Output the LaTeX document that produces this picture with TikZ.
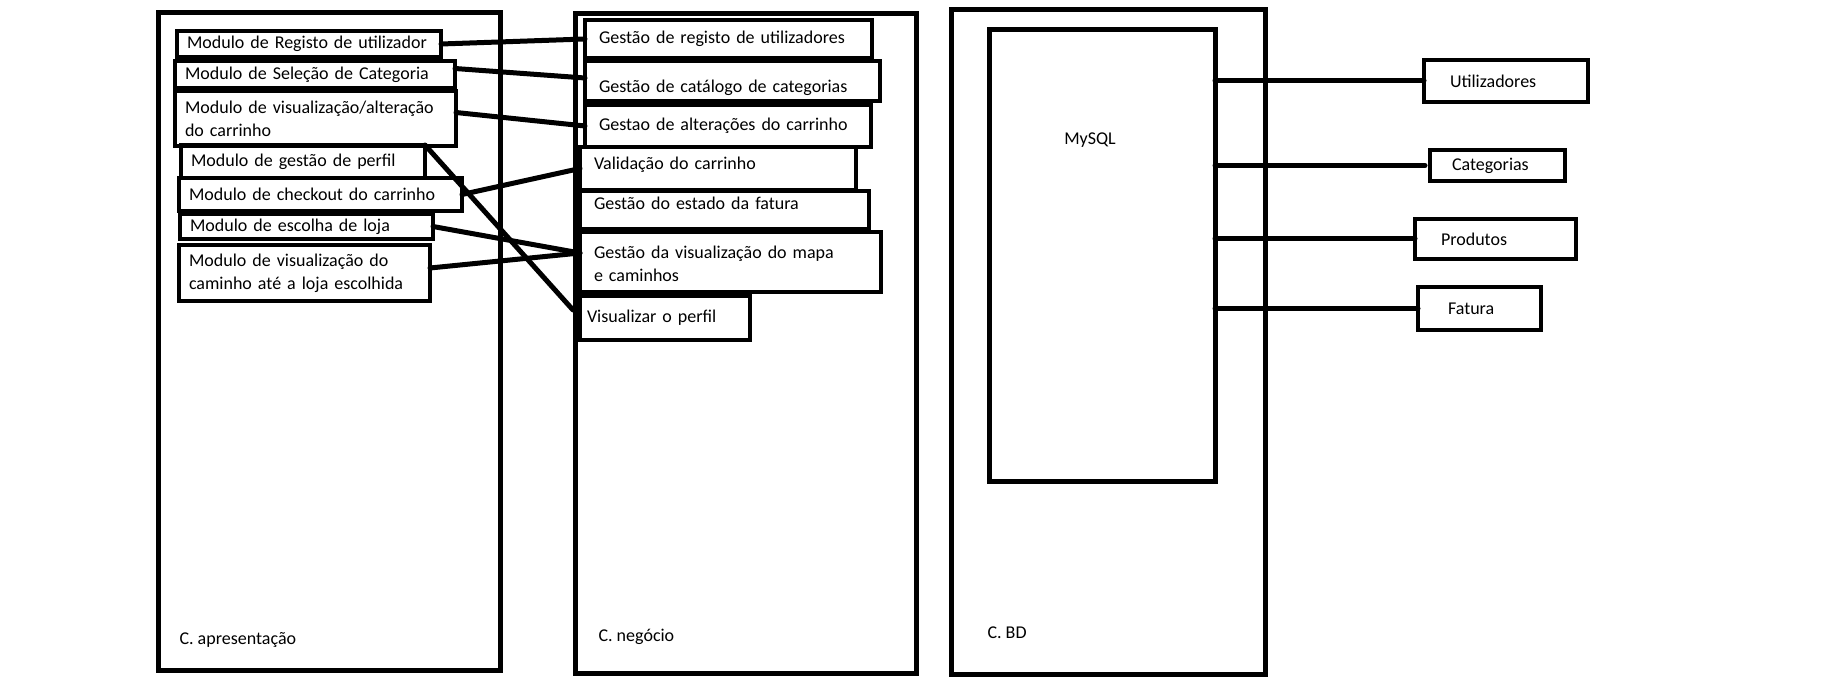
\documentclass[tikz,border=0pt]{standalone}
\usepackage{fontspec}
\setmainfont{Carlito}

\begin{document}
\begin{tikzpicture}[
    x=1pt, y=-1pt,
    font=\fontsize{18}{23}\selectfont,
    camada/.style={rectangle, draw, line width=5pt, anchor=north west, inner sep=0pt, outer sep=0pt},
    modulo/.style={rectangle, draw, line width=4.5pt, anchor=north west, align=left, inner xsep=10pt, inner ysep=0pt, outer sep=0pt},
    gestao/.style={modulo, inner xsep=14pt},
    tabela/.style={modulo, inner xsep=26pt},
    ligacao/.style={line width=5pt, line cap=round}
]
\useasboundingbox (0,0) rectangle (1826,679);

% Camadas
\node[camada, minimum width=342pt, minimum height=657pt] (capres) at (158,13) {};
\node[camada, minimum width=341pt, minimum height=659pt] (cneg) at (575,14) {};
\node[camada, minimum width=314pt, minimum height=664pt] (cbd) at (951,10) {};
\node[camada, minimum width=226pt, minimum height=451pt] (mysql) at (989,30) {};
\node[anchor=west] (tapres) at (176,640) {C. apresentação};
\node[anchor=west] (tneg) at (595,637) {C. negócio};
\node[anchor=west] (tbd) at (984,633) {C. BD};
\node (tmysql) at (1090,140) {MySQL};

% Modulos
\node[modulo, minimum height=26pt, text width=244pt] (registo) at (177,31) {Modulo de Registo de utilizador};
\node[modulo, minimum height=27pt, text width=260pt] (selecao) at (175,61) {Modulo de Seleção de Categoria};
\node[modulo, minimum height=55pt, text width=261pt] (alteracao) at (175,91) {Modulo de visualização/alteração\\do carrinho};
\node[modulo, minimum height=33pt, text width=224pt] (perfil) at (181,145) {Modulo de gestão de perfil};
\node[modulo, minimum height=33pt, text width=263pt] (checkout) at (179,178) {Modulo de checkout do carrinho};
\node[modulo, minimum height=25pt, text width=233pt] (loja) at (180,214) {Modulo de escolha de loja};
\node[modulo, minimum height=56pt, text width=231pt] (caminho) at (179,245) {Modulo de visualização do\\caminho até a loja escolhida};

% Gestao
\node[gestao, minimum height=38pt, text width=259pt] (gregisto) at (585,20) {Gestão de registo de utilizadores};
\node[gestao, minimum height=40pt, text width=267pt, text height=26pt] (gcatalogo) at (585,61) {Gestão de catálogo de categorias};
\node[gestao, minimum height=42pt, text width=258pt] (galteracao) at (585,105) {Gestao de alterações do carrinho};
\node[gestao, minimum height=43pt, text width=248pt, text depth=10pt] (validacao) at (580,147) {Validação do carrinho};
\node[gestao, minimum height=38pt, text width=261pt, text depth=14pt] (fatura) at (580,191) {Gestão do estado da fatura};
\node[gestao, minimum height=60pt, text width=273pt, text depth=19pt] (mapa) at (580,232) {Gestão da visualização do mapa\\e caminhos};
\node[gestao, inner xsep=7pt, minimum height=44pt, text width=156pt] (vperfil) at (580,296) {Visualizar o perfil};

% Tabelas
\node[tabela, minimum height=42pt, text width=112pt] (utilizadores) at (1424,60) {Utilizadores};
\node[tabela, inner xsep=22pt, minimum height=31pt, text width=91pt] (categorias) at (1430,150) {Categorias};
\node[tabela, minimum height=40pt, text width=109pt] (produtos) at (1415,219) {Produtos};
\node[tabela, inner xsep=30pt, minimum height=43pt, text width=63pt] (tfatura) at (1418,287) {Fatura};

% Ligacoes
\draw[ligacao] (registo.east) -- (gregisto.west);
\draw[ligacao] ([yshift=6pt]selecao.east) -- ([yshift=3pt]gcatalogo.west);
\draw[ligacao] ([yshift=6pt]alteracao.east) -- (galteracao.west);
\draw[ligacao] (checkout.east) -- (validacao.west);
\draw[ligacao] (loja.east) -- ([yshift=9pt]mapa.west);
\draw[ligacao] ([yshift=5pt]caminho.east) -- ([yshift=9pt]mapa.west);
\draw[ligacao] (perfil.north east) -- ([yshift=8pt,xshift=-7pt]vperfil.west);

\draw[ligacao] (utilizadores.west -| mysql.east) -- (utilizadores.west);
\draw[ligacao] (categorias.west -| mysql.east) -- ([xshift=-5pt]categorias.west);
\draw[ligacao] (produtos.west -| mysql.east) -- (produtos.west);
\draw[ligacao] (tfatura.west -| mysql.east) -- (tfatura.west);

\end{tikzpicture}
\end{document}
